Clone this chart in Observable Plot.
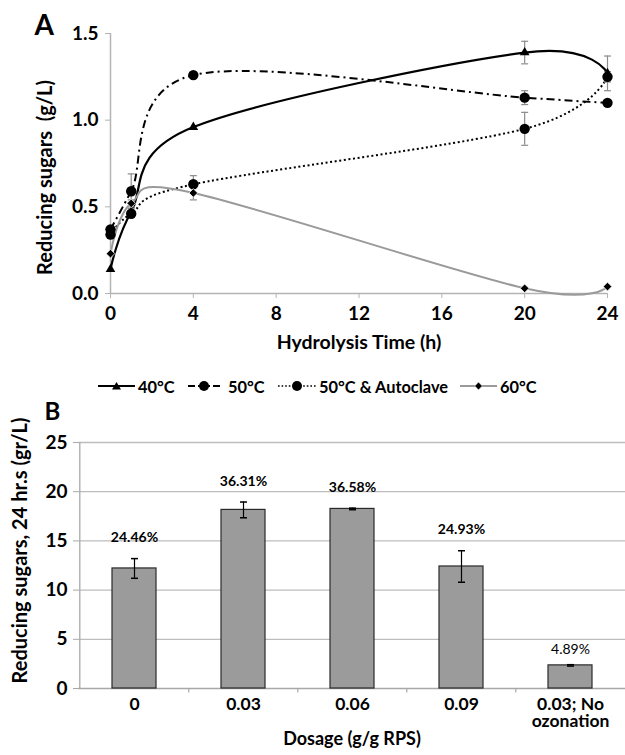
<!DOCTYPE html>
<html>
<head>
<meta charset="utf-8">
<script src="https://cdn.jsdelivr.net/npm/d3@7"></script>
<script src="https://cdn.jsdelivr.net/npm/@observablehq/plot@0.6"></script>
<style>
  html, body { margin: 0; padding: 0; background: #fff; }
  body { width: 625px; height: 755px; overflow: hidden; font-family: Lato, "Liberation Sans", sans-serif; }
  #wrap { position: relative; width: 625px; height: 755px; }
  #a { position: absolute; left: 0; top: 0; }
  #b { position: absolute; left: 0; top: 395px; }
  #legend { position: absolute; left: 0; top: 376px; width: 625px; height: 20px; font-weight: bold; font-size: 16.4px; color: #000; }
  .li { position: absolute; top: 0; height: 20px; display: flex; align-items: center; white-space: nowrap; }
  .li svg { display: block; }
</style>
</head>
<body>
<div id="wrap">
  <div id="a"></div>
  <div id="legend"></div>
  <div id="b"></div>
</div>
<script>
// ---------- Panel A data ----------
const hours = [0, 1, 4, 20, 24];
const seriesNames = ["40°C", "50°C", "50°C & Autoclave", "60°C"];
const sugar40 = [0.14, 0.47, 0.96, 1.39, 1.27];
const sugar50 = [0.37, 0.59, 1.26, 1.13, 1.10];
const sugar50Auto = [0.34, 0.46, 0.63, 0.95, 1.25];
const sugar60 = [0.23, 0.52, 0.58, 0.03, 0.04];
const err40 = [0, 0, 0, 0.065, 0.10];
const err50 = [0.01, 0.10, 0.01, 0.04, 0.01];
const err50Auto = [0.01, 0.02, 0.05, 0.095, 0.03];
const err60 = [0, 0.02, 0.04, 0, 0];
const hourTicks = [0, 4, 8, 12, 16, 20, 24];
const sugarTicksA = [0, 0.5, 1.0, 1.5];

// ---------- Panel B data ----------
const dosages = ["0", "0.03", "0.06", "0.09", "0.03; No ozonation"];
const sugar24 = [12.2, 18.15, 18.25, 12.4, 2.35];
const err24 = [1.0, 0.8, 0.08, 1.6, 0.07];
const yieldPct = ["24.46%", "36.31%", "36.58%", "24.93%", "4.89%"];
const sugarTicksB = [0, 5, 10, 15, 20, 25];

// ---------- build tables ----------
const valuesBySeries = [sugar40, sugar50, sugar50Auto, sugar60];
const errBySeries = [err40, err50, err50Auto, err60];
const rowsA = [];
seriesNames.forEach((s, i) => hours.forEach((h, j) => rowsA.push({series: s, t: h, v: valuesBySeries[i][j], e: errBySeries[i][j]})));

const style = {
  "40°C": {stroke: "#000", dash: null, width: 2.2, symbol: "triangle", r: 3.6, fill: "#000", mstroke: "none"},
  "50°C": {stroke: "#000", dash: "8,4,2,4", width: 2, symbol: "circle", r: 5.2, fill: "#000", mstroke: "none"},
  "50°C & Autoclave": {stroke: "#000", dash: "2,2.6", width: 2, symbol: "circle", r: 5.2, fill: "#000", mstroke: "none"},
  "60°C": {stroke: "#9a9a9a", dash: null, width: 2, symbol: "diamond2", r: 3.9, fill: "#000", mstroke: "#fff"}
};

const capSymbol = {draw(ctx, size) { const r = Math.sqrt(size / Math.PI); ctx.moveTo(-r, 0); ctx.lineTo(r, 0); }};
const downTick = {draw(ctx, size) { const r = Math.sqrt(size / Math.PI); ctx.moveTo(0, 0); ctx.lineTo(0, r); }};

const font = {fontFamily: "Lato, 'Liberation Sans', sans-serif", fontSize: "19px", fontWeight: "bold", background: "transparent", overflow: "visible"};

// ---------- Panel A ----------
const marksA = [
  Plot.ruleY([0], {stroke: "#b4b4b4", strokeWidth: 1.5}),
  Plot.ruleX([0], {stroke: "#b4b4b4", strokeWidth: 1.5}),
  Plot.axisY({ticks: sugarTicksA, tickFormat: d3.format(".1f"), tickSize: 5, tickPadding: 7, stroke: "#b4b4b4", fill: "#000", fontSize: 19, fontWeight: "bold", label: null}),
  Plot.axisX({ticks: hourTicks, tickFormat: d => String(d), tickSize: 5, tickPadding: 8, stroke: "#b4b4b4", fill: "#000", fontSize: 19, fontWeight: "bold", label: null}),
];
seriesNames.forEach(s => {
  const st = style[s];
  marksA.push(Plot.line(rowsA.filter(d => d.series === s), {x: "t", y: "v", curve: "cardinal", stroke: st.stroke, strokeWidth: st.width, strokeDasharray: st.dash, strokeLinecap: "butt"}));
});
const withErr = rowsA.filter(d => d.e > 0.015);
marksA.push(Plot.ruleX(withErr, {x: "t", y1: d => d.v - d.e, y2: d => d.v + d.e, stroke: "#8c8c8c", strokeWidth: 1.2}));
marksA.push(Plot.dot(withErr, {x: "t", y: d => d.v + d.e, symbol: capSymbol, r: 3.5, stroke: "#8c8c8c", strokeWidth: 1.2}));
marksA.push(Plot.dot(withErr, {x: "t", y: d => d.v - d.e, symbol: capSymbol, r: 3.5, stroke: "#8c8c8c", strokeWidth: 1.2}));
seriesNames.forEach(s => {
  const st = style[s];
  marksA.push(Plot.dot(rowsA.filter(d => d.series === s), {x: "t", y: "v", symbol: st.symbol, r: st.r, fill: st.fill, stroke: st.mstroke, strokeWidth: 0.8}));
});
marksA.push(Plot.text(["A"], {frameAnchor: "top-left", textAnchor: "start", lineAnchor: "bottom", dx: -76, dy: 1, fontSize: 28, fontWeight: "bold"}));
marksA.push(Plot.text(["Reducing sugars \u00a0(g/L)"], {frameAnchor: "left", textAnchor: "middle", rotate: -90, dx: -65, dy: 14, fontSize: 20, fontWeight: "bold"}));
marksA.push(Plot.text(["Hydrolysis Time (h)"], {frameAnchor: "bottom", textAnchor: "middle", dy: 55, fontSize: 19.5, fontWeight: "bold"}));

const chartA = Plot.plot({
  width: 625, height: 360,
  marginLeft: 110, marginRight: 18, marginTop: 33, marginBottom: 67,
  x: {domain: [0, 24], axis: null},
  y: {domain: [0, 1.5], axis: null},
  style: font,
  marks: marksA
});
document.getElementById("a").appendChild(chartA);

// ---------- Legend ----------
const legendItems = [
  {name: "40°C", left: 98, w: 37, svg: (w) => `<line x1="0" y1="7" x2="${w}" y2="7" stroke="#000" stroke-width="2"/><path d="M${w/2-4.5},10.5 L${w/2+4.5},10.5 L${w/2},3 Z" fill="#000"/>`},
  {name: "50°C", left: 188, w: 32, svg: (w) => `<line x1="0" y1="7" x2="7" y2="7" stroke="#000" stroke-width="2"/><line x1="${w-7}" y1="7" x2="${w}" y2="7" stroke="#000" stroke-width="2"/><line x1="10" y1="7" x2="${w-10}" y2="7" stroke="#000" stroke-width="2"/><circle cx="${w/2}" cy="7" r="5" fill="#000"/>`},
  {name: "50°C & Autoclave", left: 278, w: 38, svg: (w) => `<line x1="0" y1="7" x2="${w}" y2="7" stroke="#000" stroke-width="1.6" stroke-dasharray="1.6,2"/><circle cx="${w/2}" cy="7" r="5" fill="#000"/>`},
  {name: "60°C", left: 460, w: 37, svg: (w) => `<line x1="0" y1="7" x2="${w}" y2="7" stroke="#9a9a9a" stroke-width="2"/><path d="M${w/2},3 L${w/2+3.8},7 L${w/2},11 L${w/2-3.8},7 Z" fill="#000" stroke="#fff" stroke-width="0.6"/>`}
];
const legend = document.getElementById("legend");
legendItems.forEach(it => {
  const div = document.createElement("div");
  div.className = "li";
  div.style.left = it.left + "px";
  div.innerHTML = `<svg width="${it.w}" height="14" viewBox="0 0 ${it.w} 14">${it.svg(it.w)}</svg><span style="margin-left:${it.name === "50°C" ? 8 : 3}px">${it.name.replace("&", "&amp;")}</span>`;
  legend.appendChild(div);
});

// ---------- Panel B ----------
const rowsB = dosages.map((c, i) => ({cat: c, v: sugar24[i], e: err24[i], pct: yieldPct[i]}));
const marginLeftB = 78, marginRightB = 0, widthB = 625;
const stepB = (widthB - marginLeftB - marginRightB) / dosages.length;

const chartB = Plot.plot({
  width: widthB, height: 360,
  marginLeft: marginLeftB, marginRight: marginRightB, marginTop: 47, marginBottom: 67,
  x: {domain: dosages, paddingInner: 0.6, paddingOuter: 0.3, axis: null},
  y: {domain: [0, 25], axis: null},
  style: font,
  marks: [
    Plot.ruleY(sugarTicksB.filter(d => d > 0), {stroke: "#bdbdbd", strokeWidth: 1.3}),
    Plot.ruleY([0], {stroke: "#a8a8a8", strokeWidth: 1.6}),
    Plot.ruleX([dosages[0]], {dx: -stepB / 2, stroke: "#a8a8a8", strokeWidth: 1.3}),
    Plot.dot(dosages.slice(1), {x: d => d, y: 0, symbol: downTick, r: 4, dx: -stepB / 2, stroke: "#a8a8a8", strokeWidth: 1.2}),
    Plot.axisY({ticks: sugarTicksB, tickSize: 5, tickPadding: 6, stroke: "#a8a8a8", fill: "#000", fontSize: 19, fontWeight: "bold", label: null}),
    Plot.axisX({tickSize: 0, tickPadding: 9, tickFormat: d => d.replace("; No ", "; No\n"), fill: "#000", fontSize: 17.5, fontWeight: "bold", lineHeight: 1.0, label: null}),
    Plot.barY(rowsB, {x: "cat", y: "v", fill: "#9b9b9b", stroke: "#2a2a2a", strokeWidth: 1.2}),
    Plot.ruleX(rowsB, {x: "cat", y1: d => d.v - d.e, y2: d => d.v + d.e, stroke: "#000", strokeWidth: 1.2}),
    Plot.dot(rowsB, {x: "cat", y: d => d.v + d.e, symbol: capSymbol, r: 3.5, stroke: "#000", strokeWidth: 1.5}),
    Plot.dot(rowsB, {x: "cat", y: d => d.v - d.e, symbol: capSymbol, r: 3.5, stroke: "#000", strokeWidth: 1.5}),
    Plot.text(rowsB.slice(0, 4), {x: "cat", y: d => d.v + d.e, text: "pct", dy: -21, fontSize: 14, fontWeight: "bold"}),
    Plot.text(rowsB.slice(4), {x: "cat", y: d => d.v + d.e, text: "pct", dy: -15, fontSize: 14, fontWeight: "normal"}),
    Plot.text(["B"], {frameAnchor: "top-left", textAnchor: "start", lineAnchor: "bottom", dx: -34, dy: -23, fontSize: 24, fontWeight: "bold"}),
    Plot.text(["Reducing sugars, 24 hr.s (gr/L)"], {frameAnchor: "left", textAnchor: "middle", rotate: -90, dx: -58, dy: -15, fontSize: 20, fontWeight: "bold"}),
    Plot.text(["Dosage (g/g RPS)"], {frameAnchor: "bottom", textAnchor: "middle", dy: 56, fontSize: 18, fontWeight: "bold"})
  ]
});
document.getElementById("b").appendChild(chartB);
</script>
</body>
</html>
